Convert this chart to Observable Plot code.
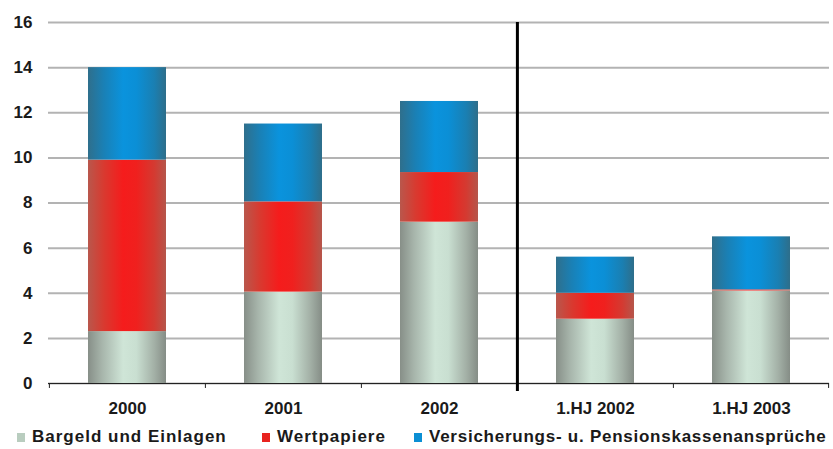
<!DOCTYPE html>
<html>
<head>
<meta charset="utf-8">
<script src="https://cdn.jsdelivr.net/npm/d3@7"></script>
<script src="https://cdn.jsdelivr.net/npm/@observablehq/plot@0.6"></script>
<style>
  html, body { margin: 0; padding: 0; background: #fff; }
  #chart { width: 833px; }
  .legend { position: relative; height: 29px; font-family: "Liberation Sans", Arial, sans-serif; font-weight: bold; font-size: 17px; color: #1a1a1a; white-space: nowrap; }
  .legend .sw { display: inline-block; width: 8px; height: 9px; margin-right: 7px; }
  .legend .item { position: absolute; top: 7px; display: flex; align-items: center; white-space: nowrap; }
</style>
</head>
<body>
<div id="chart"></div>
<script>
const categories = ["2000", "2001", "2002", "1.HJ 2002", "1.HJ 2003"];
const series = ["Bargeld und Einlagen", "Wertpapiere", "Versicherungs- u. Pensionskassenansprüche"];
const bargeld = [2.3, 4.05, 7.15, 2.85, 4.1];
const wertpapiere = [7.6, 4.0, 2.2, 1.15, 0.05];
const versicherungen = [4.1, 3.45, 3.15, 1.6, 2.35];
const yTicks = [0, 2, 4, 6, 8, 10, 12, 14, 16];
const swatchColors = ["#b9cdbf", "#e8231f", "#0b8fd4"];
const gradIds = ["gGray", "gRed", "gBlue"];

const seriesValues = [bargeld, wertpapiere, versicherungen];
const data = [];
series.forEach((s, si) => categories.forEach((c, ci) => data.push({category: c, series: s, value: seriesValues[si][ci]})));

const W = 833, H = 420, mL = 48, mR = 4, mT = 22, mB = 37;
const step = (W - mL - mR) / categories.length;

const plot = Plot.plot({
  width: W, height: H,
  marginLeft: mL, marginRight: mR, marginTop: mT, marginBottom: mB,
  style: {fontFamily: "'Liberation Sans', Arial, sans-serif", fontWeight: "bold", fontSize: "17px", color: "#1a1a1a", background: "#fff"},
  x: {domain: categories, paddingInner: 0.5, paddingOuter: 0.25, label: null},
  y: {domain: [0, 16], label: null},
  color: {domain: series, range: gradIds.map(id => `url(#${id})`)},
  marks: [
    Plot.gridY(yTicks, {stroke: "#b3b3b3", strokeOpacity: 1, strokeWidth: 2}),
    Plot.barY(data, Plot.stackY({x: "category", y: "value", fill: "series"})),
    Plot.ruleY([0], {stroke: "#222", strokeWidth: 1}),
    Plot.ruleX(categories, {x: d => d, dx: -step / 2, y1: 0, y2: -0.22, stroke: "#222"}),
    Plot.ruleX([categories[categories.length - 1]], {x: d => d, dx: step / 2 - 1, y1: 0, y2: -0.22, stroke: "#222"}),
    Plot.ruleX([categories[3]], {x: d => d, dx: -step / 2, y1: 16, y2: -0.35, stroke: "#000", strokeWidth: 3}),
    Plot.axisY(yTicks, {tickSize: 0, tickPadding: 16, fontSize: 17, fontWeight: "bold"}),
    Plot.axisX({tickSize: 0, tickPadding: 18, fontSize: 17, fontWeight: "bold"})
  ]
});

const defs = `<defs>
<linearGradient id="gGray" x1="0" x2="1" y1="0" y2="0">
 <stop offset="0" stop-color="#878f88"/><stop offset="0.18" stop-color="#a7b5ab"/><stop offset="0.45" stop-color="#cfe5d7"/><stop offset="0.62" stop-color="#c9dfd1"/><stop offset="0.85" stop-color="#a3b0a6"/><stop offset="1" stop-color="#858d86"/>
</linearGradient>
<linearGradient id="gRed" x1="0" x2="1" y1="0" y2="0">
 <stop offset="0" stop-color="#b9574c"/><stop offset="0.2" stop-color="#d83a30"/><stop offset="0.45" stop-color="#f51c1c"/><stop offset="0.62" stop-color="#f0201e"/><stop offset="0.85" stop-color="#d43a31"/><stop offset="1" stop-color="#b5564b"/>
</linearGradient>
<linearGradient id="gBlue" x1="0" x2="1" y1="0" y2="0">
 <stop offset="0" stop-color="#2f6f8c"/><stop offset="0.2" stop-color="#1a80b5"/><stop offset="0.45" stop-color="#0a93dd"/><stop offset="0.62" stop-color="#0b8fd6"/><stop offset="0.85" stop-color="#1a7fb2"/><stop offset="1" stop-color="#2e6e8a"/>
</linearGradient>
</defs>`;
plot.insertAdjacentHTML("afterbegin", defs);
document.getElementById("chart").appendChild(plot);

const legend = document.createElement("div");
legend.className = "legend";
const lefts = [17, 262, 414];
const spacing = ["1px", "1px", "0.75px"];
series.forEach((s, i) => {
  const item = document.createElement("div");
  item.className = "item";
  item.style.left = lefts[i] + "px";
  item.style.letterSpacing = spacing[i];
  const sw = document.createElement("span");
  sw.className = "sw";
  sw.style.background = swatchColors[i];
  item.appendChild(sw);
  item.appendChild(document.createTextNode(s));
  legend.appendChild(item);
});
document.getElementById("chart").appendChild(legend);
</script>
</body>
</html>
